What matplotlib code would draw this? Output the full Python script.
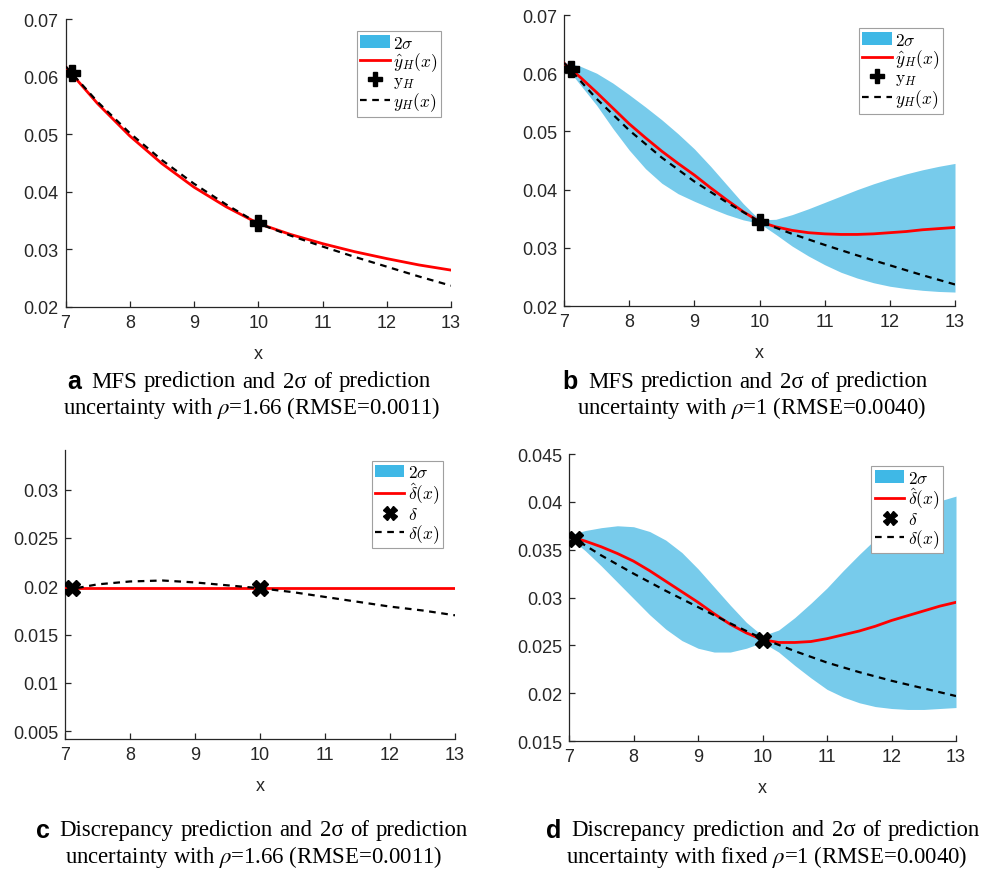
import numpy as np
import matplotlib
matplotlib.use("Agg")
import matplotlib.pyplot as plt
from matplotlib.patches import Patch
from matplotlib.lines import Line2D

plt.rcParams['mathtext.fontset'] = 'cm'
plt.rcParams['font.family'] = ['Liberation Sans', 'DejaVu Sans']

# coarse grid for the smooth curves, fine grid for the uncertainty bands
x = [7, 7.5, 8, 8.5, 9, 9.5, 10, 10.5, 11, 11.5, 12, 12.5, 13]
xf = [7, 7.25, 7.5, 7.75, 8, 8.25, 8.5, 8.75, 9, 9.25, 9.5, 9.75, 10,
      10.25, 10.5, 10.75, 11, 11.25, 11.5, 11.75, 12, 12.25, 12.5, 12.75, 13]

# high fidelity truth y_H(x)
yH_true = [0.0618, 0.0556, 0.0502, 0.0455, 0.0414, 0.0378, 0.0345, 0.0324, 0.0305, 0.0287, 0.0270, 0.0253, 0.0237]
# observed high fidelity samples
x_obs = [7.1, 10]
yH_obs = [0.0607, 0.0345]

# (a) MFS prediction, rho = 1.66
pred_a = [0.0617, 0.0553, 0.0497, 0.0449, 0.0408, 0.0374, 0.0345, 0.0326, 0.0310, 0.0296, 0.0284, 0.0273, 0.0264]

# (b) MFS prediction, rho = 1
pred_b = [0.0617, 0.0593, 0.0567, 0.0540, 0.0513, 0.0489, 0.0466, 0.0445, 0.0425, 0.0403, 0.0382, 0.0362, 0.0345,
          0.0336, 0.0330, 0.0326, 0.0324, 0.0323, 0.0323, 0.0324, 0.0326, 0.0328, 0.0331, 0.0333, 0.0335]
upper_b = [0.0619, 0.0612, 0.0600, 0.0583, 0.0563, 0.0542, 0.0520, 0.0496, 0.0470, 0.0440, 0.0408, 0.0376, 0.0348,
           0.0349, 0.0357, 0.0367, 0.0378, 0.0389, 0.0400, 0.0410, 0.0419, 0.0427, 0.0434, 0.0440, 0.0445]
lower_b = [0.0615, 0.0580, 0.0545, 0.0505, 0.0468, 0.0436, 0.0411, 0.0393, 0.0380, 0.0368, 0.0357, 0.0348, 0.0342,
           0.0323, 0.0303, 0.0286, 0.0271, 0.0258, 0.0248, 0.0240, 0.0234, 0.0230, 0.0227, 0.0225, 0.0224]

# (c) discrepancy, rho = 1.66
delta_true_c = [0.0196, 0.0202, 0.0205, 0.0206, 0.0204, 0.0201, 0.0198, 0.0194, 0.0189, 0.0184, 0.0179, 0.0175, 0.0170]
delta_pred_c = [0.0198, 0.0198, 0.0198, 0.0198, 0.0198, 0.0198, 0.0198, 0.0198, 0.0198, 0.0198, 0.0198, 0.0198, 0.0198]
delta_obs_c = [0.0198, 0.0198]

# (d) discrepancy, rho = 1
delta_true_d = [0.0365, 0.0344, 0.0325, 0.0307, 0.0290, 0.0273, 0.0257, 0.0244, 0.0232, 0.0222, 0.0213, 0.0205, 0.0197]
delta_pred_d = [0.0364, 0.0359, 0.0353, 0.0346, 0.0338, 0.0328, 0.0317, 0.0306, 0.0295, 0.0283, 0.0272, 0.0263, 0.0256,
                0.0253, 0.0253, 0.0254, 0.0257, 0.0261, 0.0265, 0.0270, 0.0276, 0.0281, 0.0286, 0.0291, 0.0295]
upper_d = [0.0365, 0.0370, 0.0373, 0.0375, 0.0374, 0.0369, 0.0360, 0.0347, 0.0330, 0.0311, 0.0292, 0.0274, 0.0260,
           0.0266, 0.0279, 0.0294, 0.0310, 0.0328, 0.0345, 0.0361, 0.0375, 0.0386, 0.0395, 0.0401, 0.0406]
lower_d = [0.0363, 0.0349, 0.0333, 0.0316, 0.0299, 0.0282, 0.0267, 0.0255, 0.0247, 0.0243, 0.0243, 0.0247, 0.0253,
           0.0243, 0.0229, 0.0216, 0.0204, 0.0196, 0.0190, 0.0186, 0.0184, 0.0183, 0.0183, 0.0184, 0.0185]
delta_obs_d = [0.0361, 0.0256]

band_col = '#3DB5E3'
legend_band = '#3FB8E6'
axcol = '#262626'
dash = (0, (3, 2.5))

fig = plt.figure(figsize=(10.02, 8.70), dpi=100)
ax_a = fig.add_axes([0.0654, 0.646, 0.3847, 0.331])
ax_b = fig.add_axes([0.5629, 0.6471, 0.3902, 0.3345])
ax_c = fig.add_axes([0.0649, 0.1494, 0.3892, 0.3322])
ax_d = fig.add_axes([0.5679, 0.1471, 0.3862, 0.3299])


def style(ax, ylim, yticks):
    ax.set_xlim(7, 13)
    ax.set_ylim(*ylim)
    ax.set_xticks(range(7, 14))
    ax.set_yticks(yticks)
    ax.set_yticklabels(['%g' % t for t in yticks])
    for s in ['top', 'right']:
        ax.spines[s].set_visible(False)
    for s in ['left', 'bottom']:
        ax.spines[s].set_color(axcol)
        ax.spines[s].set_linewidth(0.9)
    ax.tick_params(direction='in', length=4, width=0.9, colors=axcol,
                   labelsize=13, pad=5)
    ax.set_xlabel('x', fontsize=13, color=axcol, labelpad=10)


def add_legend(ax, labels, marker, anchor):
    handles = [Patch(facecolor=legend_band, edgecolor='none'),
               Line2D([], [], color='red', lw=2),
               Line2D([], [], ls='none', marker=marker, color='black', markersize=10),
               Line2D([], [], color='black', lw=1.6, ls=dash)]
    leg = ax.legend(handles, labels, loc='upper right', bbox_to_anchor=anchor,
                    borderaxespad=0, fancybox=False, fontsize=12.5,
                    handlelength=1.7, handletextpad=0.2, labelspacing=0.0,
                    borderpad=0.2, framealpha=1)
    leg.get_frame().set_edgecolor('#A0A0A0')
    leg.get_frame().set_linewidth(0.8)


yt_ab = [0.02, 0.03, 0.04, 0.05, 0.06, 0.07]
lab_ab = [r'$2\sigma$', r'$\hat{y}_H(x)$', r'$\mathrm{y}_H$', r'$y_H(x)$']
lab_cd = [r'$2\sigma$', r'$\hat{\delta}(x)$', r'$\delta$', r'$\delta(x)$']

# (a)
ax_a.plot(x, pred_a, color='red', lw=2, zorder=3)
ax_a.plot(x, yH_true, color='black', lw=1.6, ls=dash, zorder=4)
ax_a.plot(x_obs, yH_obs, ls='none', marker='P', color='black', markersize=12, zorder=5)
style(ax_a, (0.02, 0.07), yt_ab)
add_legend(ax_a, lab_ab, 'P', (0.974, 0.958))

# (b)
ax_b.fill_between(xf, lower_b, upper_b, color=band_col, alpha=0.7, lw=0, zorder=2)
ax_b.plot(xf, pred_b, color='red', lw=2, zorder=3)
ax_b.plot(x, yH_true, color='black', lw=1.6, ls=dash, zorder=4)
ax_b.plot(x_obs, yH_obs, ls='none', marker='P', color='black', markersize=12, zorder=5)
style(ax_b, (0.02, 0.07), yt_ab)
add_legend(ax_b, lab_ab, 'P', (0.969, 0.955))

# (c)
ax_c.plot(x, delta_pred_c, color='red', lw=2, zorder=3)
ax_c.plot(x, delta_true_c, color='black', lw=1.6, ls=dash, zorder=4)
ax_c.plot(x_obs, delta_obs_c, ls='none', marker='X', color='black', markersize=11, zorder=5)
style(ax_c, (0.0042, 0.0341), [0.005, 0.01, 0.015, 0.02, 0.025, 0.03])
add_legend(ax_c, lab_cd, 'X', (0.969, 0.962))

# (d)
ax_d.fill_between(xf, lower_d, upper_d, color=band_col, alpha=0.7, lw=0, zorder=2)
ax_d.plot(xf, delta_pred_d, color='red', lw=2, zorder=3)
ax_d.plot(x, delta_true_d, color='black', lw=1.6, ls=dash, zorder=4)
ax_d.plot(x_obs, delta_obs_d, ls='none', marker='X', color='black', markersize=11, zorder=5)
style(ax_d, (0.015, 0.045), [0.015, 0.02, 0.025, 0.03, 0.035, 0.04, 0.045])
add_legend(ax_d, lab_cd, 'X', (0.966, 0.958))

# captions: bold panel letter, first line, centred second line
W, H = 1002.0, 870.0
serif = dict(family='Liberation Serif', fontsize=16.4, color='black',
             math_fontfamily='stix', va='center')
captions = [
    ('a', 261, 252, 382, 'MFS prediction and 2\u03c3 of prediction',
     r'uncertainty with $\rho$=1.66 (RMSE=0.0011)'),
    ('b', 758, 751, 382, 'MFS prediction and 2\u03c3 of prediction',
     r'uncertainty with $\rho$=1 (RMSE=0.0040)'),
    ('c', 264, 254, 831, 'Discrepancy prediction and 2\u03c3 of prediction',
     r'uncertainty with $\rho$=1.66 (RMSE=0.0011)'),
    ('d', 776, 767, 831, 'Discrepancy prediction and 2\u03c3 of prediction',
     r'uncertainty with fixed $\rho$=1 (RMSE=0.0040)'),
]
renderer = fig.canvas.get_renderer()
probe1 = fig.text(0, 0, 'a b', **serif)
probe2 = fig.text(0, 0, 'ab', **serif)
space = probe1.get_window_extent(renderer).width - probe2.get_window_extent(renderer).width
probe1.remove()
probe2.remove()
gap = space * 1.2

for letter, c1, c2, ty, line1, line2 in captions:
    words = [fig.text(0, 1 - ty / H, w, ha='left', **serif) for w in line1.split()]
    widths = [t.get_window_extent(renderer).width for t in words]
    total = sum(widths) + gap * (len(words) - 1)
    pos = c1 - total / 2
    fig.text((pos - 10) / W, 1 - ty / H, letter, family='Liberation Sans',
             weight='bold', fontsize=18, ha='right', va='center')
    for t, w in zip(words, widths):
        t.set_x(pos / W)
        pos += w + gap
    fig.text(c2 / W, 1 - (ty + 26) / H, line2, ha='center', **serif)

fig.savefig('out.png', dpi=100)
